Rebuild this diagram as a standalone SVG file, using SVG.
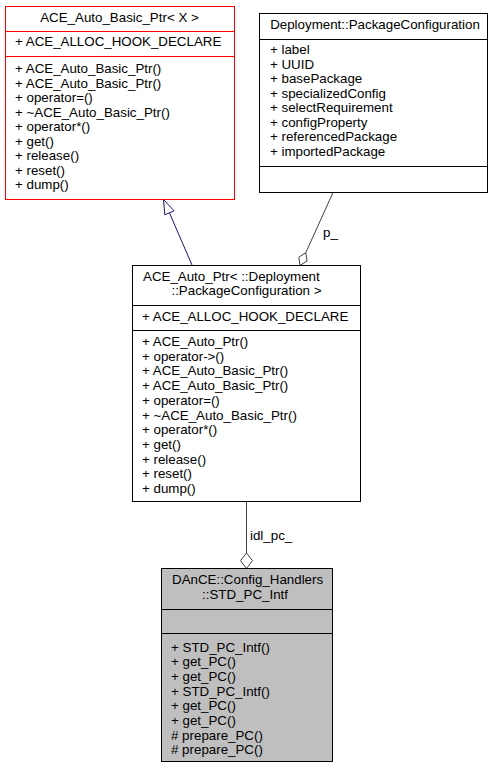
<svg xmlns="http://www.w3.org/2000/svg" width="492" height="768" viewBox="0 0 492 768">
<style>
text{font-family:"Liberation Sans",Arial,Helvetica,sans-serif;font-size:13.33px;fill:#000}
.t{text-anchor:middle}
.box{fill:#fff;stroke:#000;stroke-width:1}
.red{fill:#fff;stroke:#ff0000;stroke-width:1}
.grey{fill:#bfbfbf;stroke:#000;stroke-width:1}
.div{stroke:#000;stroke-width:1}
.divr{stroke:#ff0000;stroke-width:1}
.inh{stroke:#191970;stroke-width:1;fill:none}
.inhh{stroke:#191970;stroke-width:1;fill:#fff}
.agg{stroke:#404040;stroke-width:1;fill:none}
.aggh{stroke:#404040;stroke-width:1;fill:#fff}
</style>
<rect width="492" height="768" fill="#fff"/>
<g id="connectors">
<line class="inh" x1="192" y1="265" x2="169.4" y2="212.8"/>
<polygon class="inhh" points="163.5,199.5 164.8,214.8 174,210.8"/>
<line class="agg" x1="333" y1="192.5" x2="305.8" y2="252.7"/>
<polygon class="aggh" points="300,265.5 307,261 305.8,252.7 298.8,257.2"/>
<text x="323" y="237">p_</text>
<line class="agg" x1="246.5" y1="501.5" x2="246.5" y2="553"/>
<polygon class="aggh" points="246.5,568.5 252.5,560.7 246.5,553 240.5,560.7"/>
<text x="250" y="540">idl_pc_</text>
</g>
<g id="ace_auto_basic_ptr">
<rect class="red" x="5.5" y="6.5" width="229" height="193"/>
<line class="divr" x1="5.5" y1="31.5" x2="234.5" y2="31.5"/>
<line class="divr" x1="5.5" y1="56.5" x2="234.5" y2="56.5"/>
<text class="t" x="119.5" y="21.5">ACE_Auto_Basic_Ptr&lt; X &gt;</text>
<text x="15" y="46">+ ACE_ALLOC_HOOK_DECLARE</text>
<text x="15" y="73">+ ACE_Auto_Basic_Ptr()</text>
<text x="15" y="87.5">+ ACE_Auto_Basic_Ptr()</text>
<text x="15" y="102">+ operator=()</text>
<text x="15" y="116.5">+ ~ACE_Auto_Basic_Ptr()</text>
<text x="15" y="131">+ operator*()</text>
<text x="15" y="145.5">+ get()</text>
<text x="15" y="160">+ release()</text>
<text x="15" y="174.5">+ reset()</text>
<text x="15" y="189">+ dump()</text>
</g>
<g id="package_configuration">
<rect class="box" x="259.5" y="13.5" width="228" height="179"/>
<line class="div" x1="259.5" y1="39.5" x2="487.5" y2="39.5"/>
<line class="div" x1="259.5" y1="166.5" x2="487.5" y2="166.5"/>
<text class="t" x="375" y="28.5">Deployment::PackageConfiguration</text>
<text x="270" y="54">+ label</text>
<text x="270" y="68.5">+ UUID</text>
<text x="270" y="83">+ basePackage</text>
<text x="270" y="97.5">+ specializedConfig</text>
<text x="270" y="112">+ selectRequirement</text>
<text x="270" y="126.5">+ configProperty</text>
<text x="270" y="141">+ referencedPackage</text>
<text x="270" y="155.5">+ importedPackage</text>
</g>
<g id="ace_auto_ptr">
<rect class="box" x="132.5" y="265.5" width="228" height="236"/>
<line class="div" x1="132.5" y1="305.5" x2="360.5" y2="305.5"/>
<line class="div" x1="132.5" y1="330.5" x2="360.5" y2="330.5"/>
<text x="143" y="281">ACE_Auto_Ptr&lt; ::Deployment</text>
<text class="t" x="246.5" y="295">::PackageConfiguration &gt;</text>
<text x="142" y="321">+ ACE_ALLOC_HOOK_DECLARE</text>
<text x="142" y="346">+ ACE_Auto_Ptr()</text>
<text x="142" y="360.7">+ operator-&gt;()</text>
<text x="142" y="375.4">+ ACE_Auto_Basic_Ptr()</text>
<text x="142" y="390.1">+ ACE_Auto_Basic_Ptr()</text>
<text x="142" y="404.8">+ operator=()</text>
<text x="142" y="419.5">+ ~ACE_Auto_Basic_Ptr()</text>
<text x="142" y="434.2">+ operator*()</text>
<text x="142" y="448.9">+ get()</text>
<text x="142" y="463.6">+ release()</text>
<text x="142" y="478.3">+ reset()</text>
<text x="142" y="493">+ dump()</text>
</g>
<g id="std_pc_intf">
<rect class="grey" x="161.5" y="568.5" width="171" height="193"/>
<line class="div" x1="161.5" y1="609.5" x2="332.5" y2="609.5"/>
<line class="div" x1="161.5" y1="633.5" x2="332.5" y2="633.5"/>
<text x="172" y="584">DAnCE::Config_Handlers</text>
<text class="t" x="245" y="598.5">::STD_PC_Intf</text>
<text x="171" y="651.7">+ STD_PC_Intf()</text>
<text x="171" y="666.4">+ get_PC()</text>
<text x="171" y="681">+ get_PC()</text>
<text x="171" y="695.7">+ STD_PC_Intf()</text>
<text x="171" y="710.3">+ get_PC()</text>
<text x="171" y="725">+ get_PC()</text>
<text x="171" y="739.6"># prepare_PC()</text>
<text x="171" y="754.3"># prepare_PC()</text>
</g>
</svg>
